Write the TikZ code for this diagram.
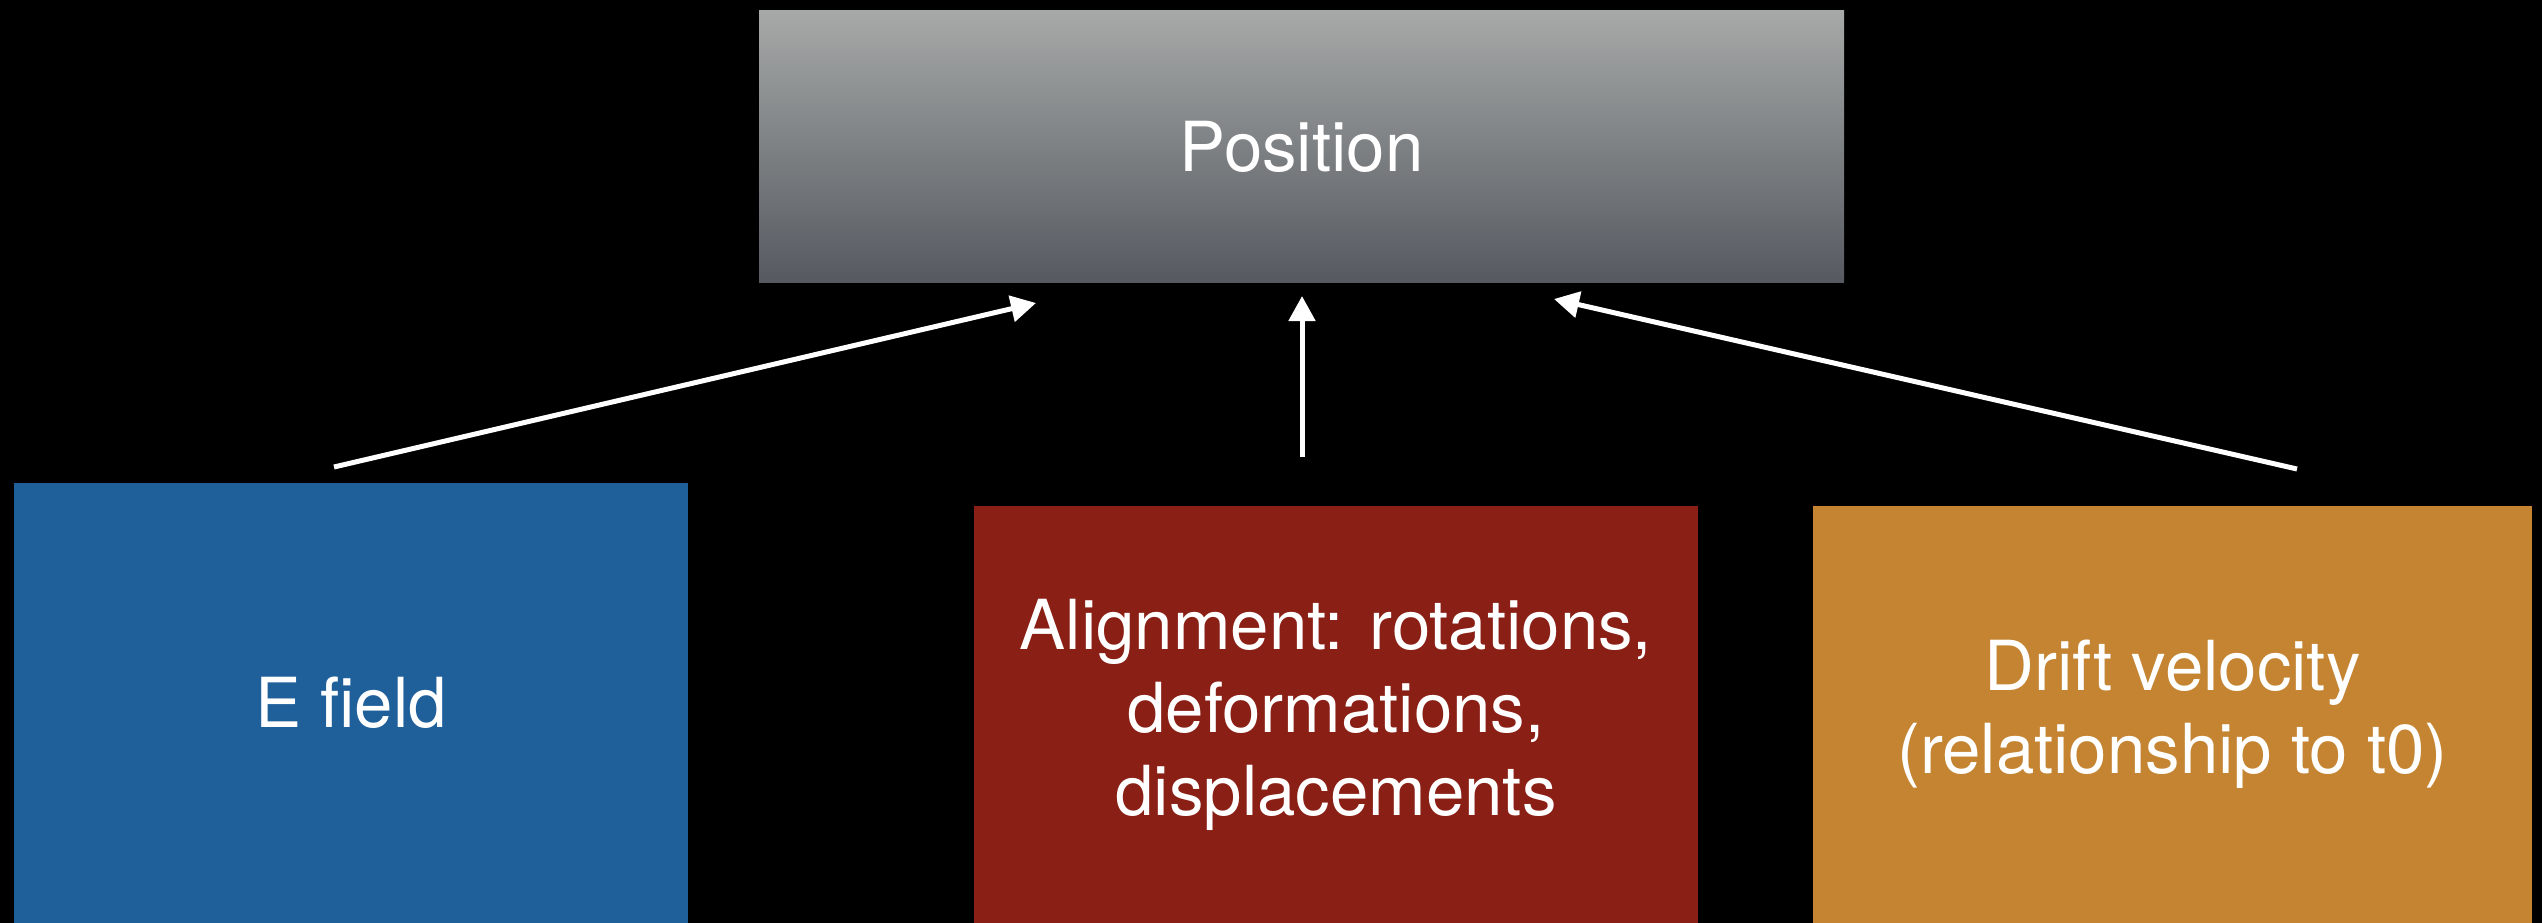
\documentclass[tikz,border=0pt]{standalone}
\usepackage{fontspec}
\setmainfont{TeX Gyre Heros}
\usetikzlibrary{arrows.meta}
\definecolor{posTop}{RGB}{166,169,167}
\definecolor{posBot}{RGB}{86,89,96}
\definecolor{efblue}{RGB}{31,96,155}
\definecolor{alred}{RGB}{138,31,21}
\definecolor{drorange}{RGB}{196,132,50}
\tikzset{
  box/.style={rectangle, draw=none, inner sep=0pt, text=white, align=center,
    font=\fontsize{69}{83}\selectfont},
  conn/.style={draw=white, line width=5pt,
    -{Triangle[length=25pt,width=26pt]}},
}
\begin{document}
\begin{tikzpicture}[x=1pt,y=-1pt]
\fill[black] (0,0) rectangle (2542,923);
\useasboundingbox (0,0) rectangle (2542,923);
\node[box, top color=posTop, bottom color=posBot,
  minimum width=1085pt, minimum height=271pt] (pos) at (1301.5,146.5) {Position};
\begin{scope}
\clip (0,0) rectangle (2542,923);
\node[box, fill=efblue, minimum width=674pt, minimum height=440pt] (ef) at (351,703) {E field};
\node[box, fill=alred, minimum width=724pt, minimum height=417pt] (al) at (1336,714.5)
  {Alignment: rotations,\\deformations,\\displacements};
\node[box, fill=drorange, minimum width=719pt, minimum height=417pt] (dr) at (2172.5,714.5)
  {Drift velocity\\(relationship to t0)};
\end{scope}
\coordinate (efout) at (334,467);
\coordinate (posin1) at (1036,303);
\coordinate (alout) at (1302,457);
\coordinate (posin2) at (1302,296);
\coordinate (drout) at (2297,469);
\coordinate (posin3) at (1554,299);
\draw[conn] (efout) -- (posin1);
\draw[conn] (alout) -- (posin2);
\draw[conn] (drout) -- (posin3);
\end{tikzpicture}
\end{document}
